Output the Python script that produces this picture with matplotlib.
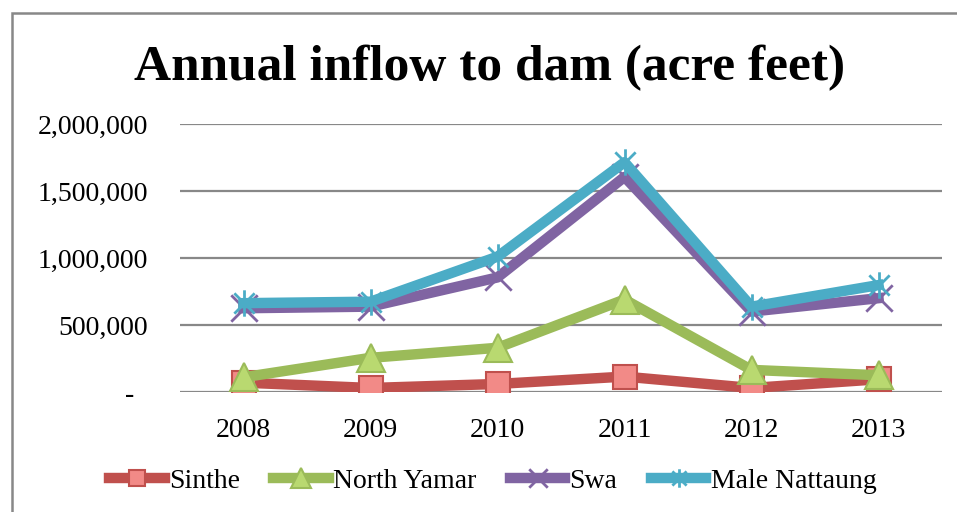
import matplotlib.pyplot as plt
import numpy as np
from matplotlib.path import Path
from matplotlib.patches import Rectangle
from matplotlib.ticker import FuncFormatter

plt.rcParams['font.family'] = ['Liberation Serif', 'DejaVu Serif']

# Data
years = ['2008', '2009', '2010', '2011', '2012', '2013']
sinthe = [70000, 30000, 60000, 115000, 30000, 95000]
north_yamar = [110000, 255000, 330000, 690000, 165000, 125000]
swa = [625000, 637000, 855000, 1605000, 600000, 700000]
male_nattaung = [663000, 674000, 1010000, 1715000, 637000, 798000]

# Excel style markers
x_marker = Path([(-1, -1), (1, 1), (-1, 1), (1, -1)],
                [Path.MOVETO, Path.LINETO, Path.MOVETO, Path.LINETO])
star_marker = Path([(-1, -1), (1, 1), (-1, 1), (1, -1), (0, -1.3), (0, 1.3)],
                   [Path.MOVETO, Path.LINETO, Path.MOVETO, Path.LINETO,
                    Path.MOVETO, Path.LINETO])

fig = plt.figure(figsize=(9.57, 5.12), dpi=100)
ax = fig.add_axes([180 / 957, 120 / 512, 762 / 957, 268 / 512])

x = np.arange(len(years))
lw = 7.5
ax.plot(x, sinthe, color='#C0504D', lw=lw, marker='s', ms=17,
        mfc='#F28A87', mec='#C0504D', mew=1.5, label='Sinthe', zorder=3)
ax.plot(x, north_yamar, color='#9BBB59', lw=lw, marker='^', ms=20,
        mfc='#B9D970', mec='#9BBB59', mew=1.5, label='North Yamar', zorder=4)
ax.plot(x, swa, color='#8064A2', lw=lw, marker=x_marker, ms=19,
        mec='#8064A2', mew=2, label='Swa', zorder=5)
ax.plot(x, male_nattaung, color='#4BACC6', lw=lw, marker=star_marker, ms=19,
        mec='#4BACC6', mew=2, label='Male Nattaung', zorder=6)

ax.set_xlim(-0.5, len(years) - 0.5)
ax.set_ylim(0, 2000000)
ax.set_yticks(np.arange(0, 2000001, 500000))
ax.yaxis.set_major_formatter(FuncFormatter(
    lambda v, p: '-  ' if v == 0 else f'{int(v):,}'))
ax.set_xticks(x)
ax.set_xticklabels(years)
ax.tick_params(axis='both', length=0, labelsize=20)
ax.tick_params(axis='y', pad=23)
ax.tick_params(axis='x', pad=19)
ax.grid(axis='y', color='#888888', lw=1.6)
ax.set_axisbelow(True)
for s in ax.spines.values():
    s.set_visible(False)

fig.text(0.512, 1 - 68 / 512, 'Annual inflow to dam (acre feet)',
         ha='center', va='center', fontsize=37, fontweight='bold')

fig.legend(loc='center', bbox_to_anchor=(0.515, 1 - 481 / 512), ncol=4,
           frameon=False, fontsize=20, handlelength=2.0, handletextpad=0.15,
           columnspacing=1.2, markerscale=0.7)

# chart frame
fig.patches.append(Rectangle((12 / 957, -0.1), 1.0, 1 - 13 / 512 + 0.1,
                             transform=fig.transFigure, fill=False,
                             ec='#888888', lw=1.8))

fig.savefig('out.png', dpi=100)
